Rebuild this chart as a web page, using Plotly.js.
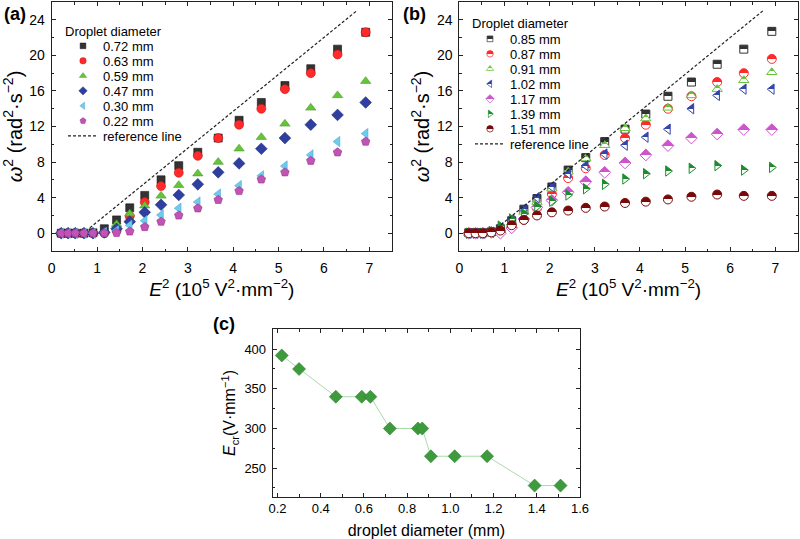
<!DOCTYPE html>
<html><head><meta charset="utf-8">
<script src="https://cdn.plot.ly/plotly-3.0.1.min.js"></script>
<style>html,body{margin:0;padding:0;background:#fff}</style>
</head><body><div id="chart" style="width:800px;height:539px"></div>
<script>
// ---------- data ----------
const E2 = [0.21,0.36,0.52,0.71,0.91,1.16,1.43,1.72,2.05,2.41,2.80,3.22,3.67,4.13,4.62,5.14,5.71,6.30,6.92];

// panel (a)
const labelsA = ['0.72 mm','0.63 mm','0.59 mm','0.47 mm','0.30 mm','0.22 mm'];
const wA_072 = [0,0,0,0,0.05,0.5,1.5,2.85,4.25,6.0,7.6,9.1,10.7,12.7,14.7,16.6,18.5,20.7,22.6];
const wA_063 = [0,0,0,0,0,0,0.3,1.9,3.5,5.3,6.8,8.7,10.7,12.2,14.0,16.2,18.0,20.1,22.6];
const wA_059 = [0,0,0,0,0,0.2,1.0,2.2,3.1,4.2,5.4,6.7,8.0,9.5,10.8,12.3,14.1,15.5,17.1];
const wA_047 = [0,0,0,0,0,0.1,0.5,1.3,2.35,3.2,4.3,5.5,6.85,7.85,9.5,10.7,12.2,13.3,14.7];
const wA_030 = [0,0,0,0,0,0.1,0.3,0.9,1.4,2.05,2.8,3.5,4.4,5.35,6.45,7.55,8.8,10.3,11.2];
const wA_022 = [0,0,0,0,0,0,0.05,0.2,0.7,1.3,2.0,2.8,3.75,4.75,6.05,6.85,8.15,9.1,10.3];

// panel (b)
const labelsB = ['0.85 mm','0.87 mm','0.91 mm','1.02 mm','1.17 mm','1.39 mm','1.51 mm'];
const wB_085 = [0.05,0.05,0.05,0.15,0.5,1.4,2.7,3.9,5.2,7.1,8.5,10.3,11.7,13.4,15.4,17.0,19.0,20.7,22.7];
const wB_087 = [0,0,0,0.1,0.3,0.7,1.5,2.8,4.4,6.2,7.3,8.8,10.7,12.2,14.0,15.4,17.0,18.0,19.6];
const wB_091 = [0,0,0,0.1,0.4,1.2,2.4,3.5,5.0,6.9,8.4,9.9,11.8,12.9,14.1,15.5,16.2,17.2,18.1];
const wB_102 = [0,0,0,0.1,0.6,1.5,2.7,4.0,5.2,6.7,7.6,8.9,9.9,10.8,11.7,14.0,15.5,16.2,16.2];
const wB_117 = [0,0,0,0.1,0,0.6,1.6,2.9,3.7,4.6,5.8,6.85,7.9,8.8,9.85,10.7,11.15,11.65,11.65];
const wB_139 = [0,0,0,0.2,0.8,1.6,2.2,3.0,3.6,4.3,5.0,5.5,6.1,6.7,7.0,7.3,7.6,7.1,7.4];
const wB_151 = [0,0,0,0.1,0.3,0.9,1.5,2.0,2.35,2.55,2.85,3.0,3.4,3.55,3.8,4.1,4.35,4.2,4.2];

// reference line (two end points)
const refX = [0.84, 6.72];
const refY = [0.6, 25.0];
const refLabel = 'reference line';

// panel (c)
const diam = [0.22,0.30,0.47,0.59,0.63,0.72,0.85,0.87,0.91,1.02,1.17,1.39,1.51];
const Ecr  = [392,375,340,340,340,300,300,300,265,265,265,228,228];

// ---------- styles ----------
const FONT = 'Liberation Sans, Arial, sans-serif';
const colA = ['#333333','#ff2a2a','#66c43a','#2e3f9f','#6fcbee','#c054b4'];
const edgeA = ['#111111','#cc1111','#4a9e2a','#1f2d7a','#4aa9cf','#99338f'];
const symA = ['square','circle','triangle-up','diamond','triangle-left','pentagon'];
const sizeA = [8,9,9,9,9,9];
const colB = ['#333333','#ff2a2a','#66c43a','#3344aa','#cc55cc','#1e8c2e','#7a0a0a'];
const symB = ['square','circle','triangle-up','triangle-left','diamond','triangle-right','circle'];
const sizeB = [8,9,9,9,9,9,9];

const seriesA = [wA_072,wA_063,wA_059,wA_047,wA_030,wA_022];
const seriesB = [wB_085,wB_087,wB_091,wB_102,wB_117,wB_139,wB_151];

const traces = [];
seriesA.forEach((ys,i)=>traces.push({
  type:'scatter', mode:'markers', x:E2, y:ys, name:labelsA[i],
  xaxis:'x', yaxis:'y', legend:'legend',
  marker:{symbol:symA[i], size:sizeA[i], color:colA[i], line:{color:edgeA[i], width:0.6}}
}));
traces.push({type:'scatter', mode:'lines', x:refX, y:refY, name:refLabel,
  xaxis:'x', yaxis:'y', legend:'legend',
  line:{color:'#222', width:1.2, dash:'3px,2px'}});

seriesB.forEach((ys,i)=>traces.push({
  type:'scatter', mode:'markers', x:E2, y:ys, name:labelsB[i],
  xaxis:'x2', yaxis:'y2', legend:'legend2',
  marker:{symbol:symB[i], size:sizeB[i], color:colB[i],
    gradient:{type:'vertical', color:'#ffffff'},
    line:{color:colB[i], width:1}}
}));
traces.push({type:'scatter', mode:'lines', x:refX, y:refY, name:refLabel,
  xaxis:'x2', yaxis:'y2', legend:'legend2',
  line:{color:'#222', width:1.2, dash:'3px,2px'}});

traces.push({type:'scatter', mode:'lines+markers', x:diam, y:Ecr, showlegend:false,
  xaxis:'x3', yaxis:'y3',
  line:{color:'#a8dca8', width:1},
  marker:{symbol:'diamond', size:10, color:'#3d9b3d', line:{color:'#2b7f2b', width:0.6}}});

function ax(extra){
  return Object.assign({
    showline:true, linecolor:'#222', linewidth:1, mirror:'allticks',
    ticks:'inside', ticklen:4, tickwidth:1, tickcolor:'#222',
    showgrid:false, zeroline:false,
    tickfont:{family:FONT, size:14, color:'#000'},
    fixedrange:true
  }, extra);
}
const minorT = d=>({ticks:'inside', ticklen:2.5, tickcolor:'#222', tickwidth:1, dtick:d, showgrid:false});
const titleFontX = {family:FONT, size:19, color:'#000'};
const titleFontY = {family:FONT, size:20, color:'#000'};
const titleFontC = {family:FONT, size:16, color:'#000'};

const W=800, H=539;
const px = v=>v/W, py = v=>1-v/H;

const xTitle = '<i>E</i><sup>2</sup> (10<sup>5</sup> V<sup>2</sup>·mm<sup>−2</sup>)';
const yTitle = '<i>ω</i><sup>2</sup> (rad<sup>2</sup>·s<sup>−2</sup>)';

const layout = {
  width:W, height:H, margin:{l:0,r:0,t:0,b:0},
  paper_bgcolor:'#fff', plot_bgcolor:'#fff',
  font:{family:FONT, color:'#000'},
  showlegend:true,
  xaxis: ax({domain:[px(51.7),px(392)], anchor:'y', range:[0,7.5], dtick:1, tick0:0,
    minor:minorT(0.5), ticklabelstandoff:4,
    title:{text:xTitle, font:titleFontX, standoff:3}}),
  yaxis: ax({domain:[py(251),py(2)], anchor:'x', range:[-2,26], dtick:4, tick0:0,
    minor:minorT(2), ticklabelstandoff:3,
    title:{text:yTitle, font:titleFontY, standoff:1}}),
  xaxis2: ax({domain:[px(459.3),px(798)], anchor:'y2', range:[0,7.5], dtick:1, tick0:0,
    minor:minorT(0.5), ticklabelstandoff:4,
    title:{text:xTitle, font:titleFontX, standoff:3}}),
  yaxis2: ax({domain:[py(251),py(2)], anchor:'x2', range:[-2,26], dtick:4, tick0:0,
    minor:minorT(2), ticklabelstandoff:3,
    title:{text:yTitle, font:titleFontY, standoff:1}}),
  xaxis3: ax({domain:[px(272.7),px(580)], anchor:'y3', range:[0.178,1.6], dtick:0.2, tick0:0.2,
    tickformat:'.1f', tickfont:{family:FONT, size:13, color:'#000'},
    minor:minorT(0.1), ticklabelstandoff:0,
    title:{text:'droplet diameter (mm)', font:titleFontC, standoff:10}}),
  yaxis3: ax({domain:[py(496.7),py(329.3)], anchor:'x3', range:[214,425], dtick:50, tick0:0,
    tickfont:{family:FONT, size:13, color:'#000'},
    minor:minorT(25), ticklabelstandoff:3,
    title:{text:'<i>E</i><sub>cr</sub>(V·mm<sup>−1</sup>)', font:titleFontC, standoff:4}}),
  legend:{x:px(63), y:py(19), xanchor:'left', yanchor:'top', bgcolor:'rgba(0,0,0,0)',
    font:{family:FONT, size:13, color:'#000'}, title:{text:'Droplet diameter', font:{family:FONT, size:13}},
    tracegroupgap:0},
  legend2:{x:px(470), y:py(11), xanchor:'left', yanchor:'top', bgcolor:'rgba(0,0,0,0)',
    font:{family:FONT, size:13, color:'#000'}, title:{text:'Droplet diameter', font:{family:FONT, size:13}},
    tracegroupgap:0},
  annotations:[
    {text:'<b>(a)</b>', xref:'paper', yref:'paper', x:px(2), y:py(2), xanchor:'left', yanchor:'top', showarrow:false, font:{family:FONT, size:18}},
    {text:'<b>(b)</b>', xref:'paper', yref:'paper', x:px(401), y:py(2), xanchor:'left', yanchor:'top', showarrow:false, font:{family:FONT, size:18}},
    {text:'<b>(c)</b>', xref:'paper', yref:'paper', x:px(211), y:py(312), xanchor:'left', yanchor:'top', showarrow:false, font:{family:FONT, size:18}}
  ]
};

function tidyLegend(cls, firstShift, step){
  const lg = document.querySelector('g.' + cls);
  if(!lg) return;
  const items = lg.querySelectorAll('g.traces');
  let y0 = null;
  items.forEach((it, i)=>{
    const m = /translate\(\s*([-\d.e]+)[ ,]+([-\d.e]+)\s*\)/.exec(it.getAttribute('transform') || '');
    if(!m) return;
    const x = parseFloat(m[1]), y = parseFloat(m[2]);
    if(y0 === null) y0 = y;
    it.setAttribute('transform', 'translate(' + x + ',' + (y0 + firstShift + i*step) + ')');
  });
  lg.querySelectorAll('g.legendpoints path.scatterpts').forEach(p=>{
    const t = p.getAttribute('transform') || '';
    p.setAttribute('transform', t + ' scale(0.72)');
  });
}

Plotly.newPlot('chart', traces, layout, {displayModeBar:false, staticPlot:true}).then(()=>{
  // hard-edged vertical gradients -> half-filled markers
  document.querySelectorAll('linearGradient').forEach(g=>{
    const stops = g.querySelectorAll('stop');
    if(stops.length!==2) return;
    const a = stops[0].cloneNode(); a.setAttribute('offset','50%');
    const b = stops[1].cloneNode(); b.setAttribute('offset','50%');
    g.insertBefore(a, stops[1]); g.insertBefore(b, stops[1]);
  });
  tidyLegend('legend', -5, 15);
  tidyLegend('legend2', -4, 15);
});
</script></body></html>
